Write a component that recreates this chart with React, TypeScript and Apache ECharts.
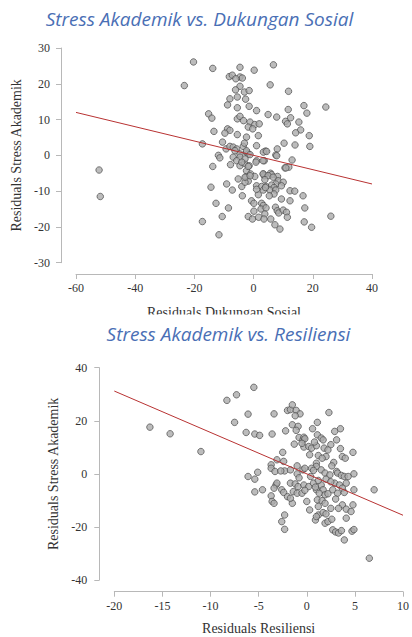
import React, { useEffect, useRef } from "react";
import * as echarts from "echarts";

// Chart 1: Residuals Dukungan Sosial (x) vs Residuals Stress Akademik (y)
const points1: number[][] = [
  [-20.3, 26.1], [-23.4, 19.5], [-13.8, 24.3], [-4.6, 24.6], [0.2, 23.8], [6.7, 25.3], [5.6, 19.7], [11.8, 17.9],
  [24.4, 13.5], [17.0, 13.9], [18.0, 11.8], [11.7, 12.8], [-15.2, 11.6], [-14.1, 10.4], [-13.4, 6.7], [-17.3, 3.2],
  [-8.2, 22.0], [-7.2, 22.4], [-4.6, 21.9], [-3.8, 21.6], [-6.0, 21.4], [-4.6, 19.3], [-6.1, 18.3], [-3.1, 17.7],
  [-1.5, 18.1], [-5.5, 16.3], [-2.7, 15.7], [-8.0, 15.8], [-8.8, 14.1], [-5.5, 13.3], [-1.5, 13.7], [1.0, 12.5],
  [4.9, 11.4], [7.8, 10.7], [-5.5, 10.2], [-4.6, 10.9], [-3.4, 9.7], [-1.2, 9.3], [0.4, 8.6], [1.9, 8.8],
  [-1.8, 7.9], [-0.3, 7.4], [-2.4, 5.1], [1.6, 5.5], [-8.8, 7.4], [-8.0, 7.0], [-9.7, 6.2], [-5.5, 5.8],
  [10.8, 9.5], [12.5, 10.5], [11.4, 8.8], [15.3, 9.3], [15.9, 7.1], [14.2, 6.3], [18.8, 5.5], [19.0, 2.5],
  [14.0, 2.9], [10.3, 3.4], [8.0, 1.8], [4.0, 1.2], [3.3, 0.9], [7.5, 0.1], [1.0, 2.7], [-10.5, 3.7],
  [-9.3, 1.8], [-8.0, 2.5], [-6.9, 2.3], [-5.7, 1.8], [-3.5, 2.5], [-3.1, 3.4], [-2.4, 0.9], [-4.6, 0.4],
  [-11.9, 0.0], [-11.4, -0.7], [-6.9, -0.5], [-4.6, -0.5], [-1.8, 0.4], [13.0, -1.3],
  [-52.2, -4.1], [-51.8, -11.5], [-13.8, -3.1], [-14.4, -8.9], [-9.1, -8.0], [-7.2, -9.7], [-5.2, -6.6], [-4.0, -8.7],
  [-3.8, -11.3], [-7.8, -2.6], [-5.7, -1.5], [-4.6, -2.9], [-3.1, -2.2], [-2.4, -4.3], [-1.5, -2.9], [-1.0, -5.2],
  [-2.6, -6.1], [-1.8, -7.2], [-2.9, -7.5], [0.4, -5.9], [1.0, -1.5], [3.6, -1.5], [3.3, -5.2], [3.6, -5.7],
  [5.7, -5.0], [6.1, -5.4], [8.1, -5.9], [8.3, -7.1], [7.5, -8.0], [10.0, -7.5], [10.6, -3.5], [11.9, -3.3],
  [1.0, -8.5], [2.7, -8.7], [4.2, -8.7], [3.3, -9.7], [6.1, -8.3], [6.9, -9.0], [5.5, -9.7], [7.5, -9.7],
  [6.9, -10.8], [5.3, -11.3], [1.6, -11.0], [12.3, -9.9], [13.9, -10.0], [16.7, -11.3], [9.4, -12.2], [12.3, -12.7],
  [-12.7, -13.4], [-8.5, -14.7], [-10.6, -17.1], [-17.3, -18.5], [-11.7, -22.2], [-0.7, -12.7], [0.1, -13.4], [2.7, -13.4],
  [3.3, -14.0], [2.5, -15.0], [4.2, -14.7], [3.8, -16.4], [0.1, -15.6], [-1.8, -17.1], [-0.4, -17.8], [1.7, -17.3],
  [3.5, -17.8], [5.8, -17.8], [7.4, -14.5], [8.0, -15.5], [8.5, -16.1], [10.0, -15.3], [11.1, -15.9], [11.4, -17.3],
  [7.2, -19.4], [8.9, -20.6], [17.3, -14.7], [17.1, -18.6], [19.6, -20.1], [26.1, -17.0],
  [-6.3, 1.3], [-2.4, 1.3], [-1.2, 0.2], [-2.9, -1.0], [-4.0, -1.9], [-1.8, -3.1], [-2.9, -6.1], [-1.2, -5.7],
  [4.4, 1.1], [3.2, -1.5], [0.8, -1.9], [7.8, -0.1], [10.9, -3.5], [3.2, -5.2], [4.9, -5.7], [6.6, -6.1],
  [3.8, -6.8], [9.4, -8.5], [1.0, -9.5], [4.0, -9.0],
];
const fitLine1: number[][] = [[-60, 12], [40, -8]];

// Chart 2: Residuals Resiliensi (x) vs Residuals Stress Akademik (y)
const points2: number[][] = [
  [-16.3, 17.6], [-14.2, 15.1], [-11.0, 8.4], [-8.3, 27.7], [-7.3, 29.8], [-5.5, 32.6], [-7.5, 19.4], [-6.1, 22.5],
  [-6.3, 15.6], [-5.4, 15.0], [-4.9, 14.5], [-3.6, 15.0], [-3.4, 22.6], [-2.5, 8.1], [-3.1, 5.3], [-3.7, 3.4],
  [-3.7, 2.1], [-2.2, 16.2], [-2.0, 23.9], [-1.7, 24.2], [-1.5, 26.0], [-1.1, 23.9], [-0.7, 22.6], [-1.2, 21.9],
  [-1.5, 18.5], [-0.9, 17.9], [-1.1, 16.4], [-1.3, 11.2], [-0.8, 13.7], [-0.4, 12.8], [-0.3, 13.8], [-0.2, 13.2],
  [1.1, 19.4], [0.6, 17.0], [1.1, 14.7], [1.5, 13.5], [2.3, 23.1], [1.7, 12.8], [-0.3, 10.1], [0.2, 10.3],
  [0.5, 9.7], [1.0, 10.6], [0.3, 7.2], [1.2, 6.9], [1.8, 9.7], [2.9, 16.0], [3.1, 12.8], [3.5, 17.0],
  [3.7, 6.5], [4.0, 5.9], [4.8, 8.1], [2.0, 6.5], [1.6, 5.9], [1.0, 4.0], [1.0, 2.8], [2.8, 4.3],
  [4.9, 0.0], [3.1, 0.9], [3.2, 0.3], [3.6, -0.6], [-2.4, 4.7], [-2.3, 1.1], [-1.7, 1.5], [-3.3, 0.9],
  [-2.7, 1.1], [-1.0, 3.0], [-1.0, 0.0], [-0.4, 1.5], [-0.2, 2.1], [0.5, 2.1], [0.7, 1.3], [1.5, 1.5],
  [1.9, 0.3], [2.4, -0.4], [-6.1, -1.0], [-5.1, 0.6],
  [-5.4, -2.0], [-5.4, -6.8], [-4.6, -6.0], [-3.2, -4.2], [-3.1, -3.5], [-3.4, -5.4], [-3.7, -8.3], [-3.6, -10.4],
  [-3.4, -11.1], [-2.6, -6.0], [-2.4, -7.0], [-2.0, -8.6], [-1.5, -11.1], [-2.3, -15.5], [-2.6, -18.0], [-2.3, -20.9],
  [-1.7, -3.5], [-1.2, -3.8], [-0.9, -4.8], [-1.4, -6.7], [-1.0, -7.3], [-0.5, -7.3], [-1.7, -9.2], [-0.3, -4.2],
  [0.2, -4.8], [0.7, -3.5], [0.0, -10.4], [0.3, -13.6], [1.0, -6.0], [1.5, -4.2], [1.7, -6.0], [1.3, -7.3],
  [1.9, -7.9], [2.2, -7.5], [1.1, -9.8], [1.6, -10.1], [1.2, -12.3], [1.9, -11.1], [0.9, -17.4], [1.2, -15.5],
  [1.7, -14.6], [2.0, -15.1], [1.0, -16.1], [1.9, -18.6], [2.2, -18.0], [2.6, -17.1], [3.9, -1.0],
  [2.9, -3.5], [3.4, -4.2], [4.1, -3.5], [3.7, -5.4], [2.7, -6.0], [3.2, -7.3], [4.9, -6.0], [3.9, -7.0],
  [3.7, -11.7], [4.1, -13.3], [4.8, -11.7], [4.6, -14.2], [4.1, -16.7], [4.3, -1.0],
  [2.7, -21.1], [3.0, -21.9], [3.3, -22.3], [3.6, -21.4], [4.7, -21.6], [4.9, -21.0], [3.9, -24.9], [7.0, -6.0],
  [6.5, -31.8],
  [-0.5, 11.5], [0.8, 12.0], [2.5, 11.0], [2.2, 9.0], [3.5, 9.5], [2.6, 3.0], [-0.8, -1.5], [0.4, -1.0],
  [1.2, -2.5], [2.0, -2.0], [2.5, -3.0], [0.9, -5.0], [-0.2, -6.2], [3.0, -9.5], [2.5, -13.0], [3.3, -13.0],
];
const fitLine2: number[][] = [[-20, 31.2], [10, -15.6]];

const title1 = "Stress Akademik vs. Dukungan Sosial";
const title2 = "Stress Akademik vs. Resiliensi";
const xName1 = "Residuals Dukungan Sosial";
const xName2 = "Residuals Resiliensi";
const yName = "Residuals Stress Akademik";

const AXIS_COLOR = "#b8b8b8";
const TEXT_COLOR = "#333333";
const SERIF = "Liberation Serif";

function axisBase(extra: any) {
  const { axisLabel: extraLabel, ...rest } = extra;
  return {
    type: "value",
    axisLine: { show: true, onZero: false, lineStyle: { color: AXIS_COLOR, width: 1 } },
    axisTick: { show: true, length: 5, lineStyle: { color: AXIS_COLOR, width: 1 } },
    splitLine: { show: false },
    nameTextStyle: { fontFamily: SERIF, fontSize: 14, color: TEXT_COLOR },
    nameLocation: "middle",
    ...rest,
    axisLabel: { fontFamily: SERIF, fontSize: 12, color: TEXT_COLOR, ...(extraLabel || {}) },
  };
}

const scatterStyle = {
  color: "#ababab",
  borderColor: "#4a4a4a",
  borderWidth: 0.9,
};

export default function App() {
  const ref = useRef<HTMLDivElement>(null);
  useEffect(() => {
    if (!ref.current) return;
    const chart = echarts.init(ref.current, undefined, { renderer: "svg" });
    chart.setOption({
      animation: false,
      backgroundColor: "#ffffff",
      textStyle: { fontFamily: SERIF },
      grid: [
        { left: 76, top: 48, width: 296, height: 214.7 },
        { left: 114.3, top: 367.7, width: 294, height: 212.3 },
      ],
      xAxis: [
        axisBase({
          gridIndex: 0, min: -60, max: 40, interval: 20, offset: 11.3,
          name: xName1, nameGap: 31, axisLabel: { margin: 8 },
        }),
        axisBase({
          gridIndex: 1, min: -20, max: 10, interval: 5, offset: 11.7,
          name: xName2, nameGap: 30, axisLabel: { margin: 8 },
        }),
      ],
      yAxis: [
        axisBase({
          gridIndex: 0, min: -30, max: 30, interval: 10, offset: 15,
          name: yName, nameGap: 35, nameRotate: 90, axisLabel: { margin: 11 },
        }),
        axisBase({
          gridIndex: 1, min: -40, max: 40, interval: 20, offset: 15,
          name: yName, nameGap: 35, nameRotate: 90, axisLabel: { margin: 12 },
        }),
      ],
      series: [
        {
          type: "scatter", xAxisIndex: 0, yAxisIndex: 0, data: points1,
          symbolSize: 6.5, itemStyle: scatterStyle, z: 2,
        },
        {
          type: "line", xAxisIndex: 0, yAxisIndex: 0, data: fitLine1,
          symbol: "none", lineStyle: { color: "#b83232", width: 1 }, z: 3,
        },
        {
          type: "scatter", xAxisIndex: 1, yAxisIndex: 1, data: points2,
          symbolSize: 6.5, itemStyle: scatterStyle, z: 2,
        },
        {
          type: "line", xAxisIndex: 1, yAxisIndex: 1, data: fitLine2,
          symbol: "none", lineStyle: { color: "#b83232", width: 1 }, z: 3,
        },
      ],
      graphic: [
        {
          type: "rect", z: 100,
          shape: { x: 0, y: 314.5, width: 412, height: 8 },
          style: { fill: "#ffffff" },
        },
        {
          type: "text", z: 101, x: 199.5, y: 18.5,
          style: {
            text: title1, fill: "#4a6fb5", fontSize: 19, fontStyle: "italic",
            fontFamily: "Open Sans", align: "center", verticalAlign: "middle",
          },
        },
        {
          type: "text", z: 101, x: 228.5, y: 333.5,
          style: {
            text: title2, fill: "#4a6fb5", fontSize: 19, fontStyle: "italic",
            fontFamily: "Open Sans", align: "center", verticalAlign: "middle",
          },
        },
      ],
    });
    return () => chart.dispose();
  }, []);
  return (
    <div
      ref={ref}
      style={{ position: "fixed", left: 0, top: 0, width: 412, height: 637, background: "#fff" }}
    />
  );
}
